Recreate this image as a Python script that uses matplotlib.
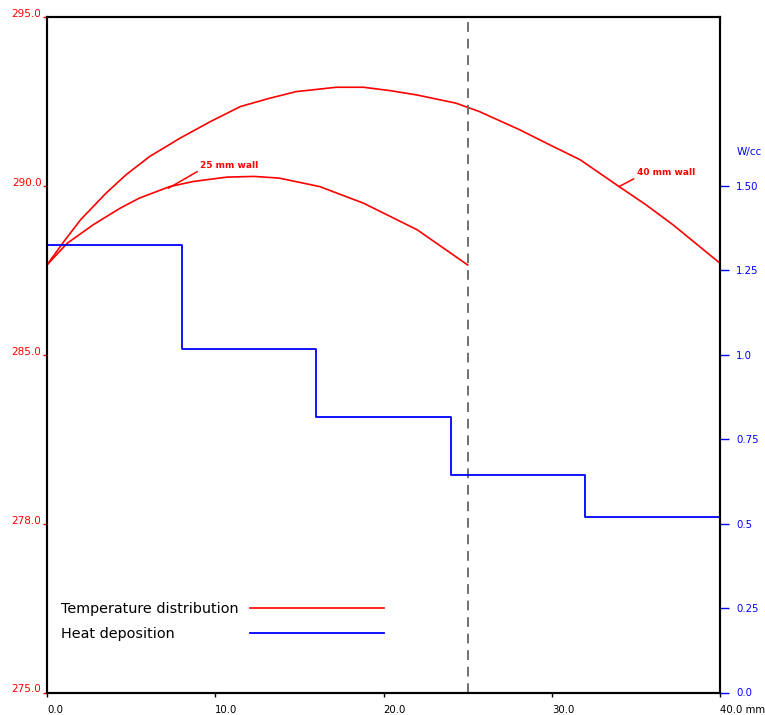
import matplotlib
matplotlib.use("Agg")
import matplotlib.pyplot as plt
from matplotlib.lines import Line2D

plt.rcParams['font.family'] = ['DejaVu Sans']

# temperature profile, 40 mm wall (mm, K)
x_40 = [0.0, 1.0, 2.0, 3.5, 4.7, 6.1, 7.9, 9.7, 11.5, 13.2, 14.8, 17.2, 18.8,
        20.4, 22.0, 24.3, 25.7, 28.1, 29.7, 31.7, 34.0, 35.6, 37.2, 40.0]
t_40 = [287.66, 288.35, 289.0, 289.78, 290.33, 290.87, 291.41, 291.9, 292.35,
        292.59, 292.79, 292.92, 292.92, 292.82, 292.69, 292.45, 292.2, 291.66,
        291.26, 290.77, 289.98, 289.44, 288.85, 287.71]

# temperature profile, 25 mm wall
x_25 = [0.0, 1.2, 2.75, 4.35, 5.5, 7.3, 8.7, 10.7, 12.3, 13.8, 16.2, 18.8, 22.0, 25.0]
t_25 = [287.66, 288.3, 288.85, 289.34, 289.64, 289.98, 290.13, 290.26, 290.28,
        290.23, 289.98, 289.49, 288.7, 287.66]

# heat deposition per 8 mm zone (W/cc)
zone_edges = [0, 8, 16, 24, 32, 40]
heat = [1.325, 1.018, 0.817, 0.643, 0.521]

x_ticks = [0, 10, 20, 30, 40]
x_labels = ['0.0', '10.0', '20.0', '30.0', '40.0 mm']
t_ticks = [275, 280, 285, 290, 295]
t_labels = ['275.0', '278.0', '285.0', '290.0', '295.0']
h_ticks = [0, 0.25, 0.5, 0.75, 1.0, 1.25, 1.5]
h_labels = ['0.0', '0.25', '0.5', '0.75', '1.0', '1.25', '1.50']

wall_25 = 25.0

fig = plt.figure(figsize=(7.65, 7.15), dpi=100)
ax = fig.add_axes([47 / 765, 22.5 / 715, 673 / 765, 675.5 / 715])
ax2 = ax.twinx()

# temperature curves
line_t, = ax.plot(x_40, t_40, color='red', lw=1.2)
ax.plot(x_25, t_25, color='red', lw=1.2)
ax.axvline(wall_25, color='#707070', lw=1.4, dashes=(5, 3.5))

# heat deposition steps
steps = heat + [heat[-1]]
line_h, = ax2.step(zone_edges, steps, where='post', color='blue', lw=1.3)

ax.set_xlim(0, 40)
ax.set_ylim(275, 295)
ax2.set_ylim(0, 2.0)

ax.set_xticks(x_ticks)
ax.set_xticklabels(x_labels, ha='left')
ax.tick_params(axis='x', direction='out', length=3, width=1, pad=6, labelsize=7.3)

ax.set_yticks(t_ticks)
ax.set_yticklabels(t_labels, va='baseline')
ax.tick_params(axis='y', direction='out', length=3, width=1, pad=1,
               colors='red', labelsize=7.5)

ax2.set_yticks(h_ticks)
ax2.set_yticklabels(h_labels)
ax2.tick_params(axis='y', direction='out', length=6.5, width=1, pad=5,
                colors='blue', labelsize=7.3)

for a in (ax, ax2):
    for s in a.spines.values():
        s.set_linewidth(1.5)
        s.set_color('black')

ax2.text(41.0, 1.60, 'W/cc', color='blue', fontsize=7.5, va='center', clip_on=False)

# curve labels
ax.annotate('25 mm wall', xy=(7.21, 289.93), xytext=(9.1, 290.47),
            color='red', fontsize=6.5, fontweight='bold', ha='left', va='bottom',
            arrowprops=dict(arrowstyle='-', color='red', lw=1.1,
                            shrinkA=0, shrinkB=0, relpos=(0, 0)))
ax.annotate('40 mm wall', xy=(34.0, 289.98), xytext=(35.04, 290.25),
            color='red', fontsize=6.5, fontweight='bold', ha='left', va='bottom',
            arrowprops=dict(arrowstyle='-', color='red', lw=1.1,
                            shrinkA=0, shrinkB=0, relpos=(0, 0)))

# legend: labels in first column, line keys in second
blank = Line2D([], [], color='none')
ax.legend([blank, blank, line_t, line_h],
          ['Temperature distribution', 'Heat deposition', '', ''],
          ncol=2, frameon=False, fontsize=10.4, handlelength=9.26,
          handletextpad=0.3, columnspacing=0.8, labelspacing=0.8,
          borderpad=0, borderaxespad=0, loc='center left',
          bbox_to_anchor=(-0.1848, 0.105))

fig.savefig('out.png', dpi=100)
